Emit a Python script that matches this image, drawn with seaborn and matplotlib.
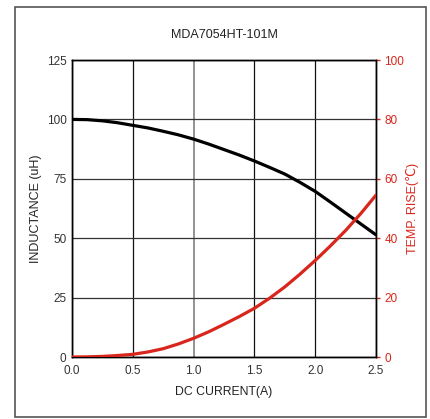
import matplotlib
matplotlib.use("Agg")
import matplotlib.pyplot as plt
import seaborn as sns
import pandas as pd
from matplotlib.patches import Rectangle

current = [0.0, 0.125, 0.25, 0.375, 0.5, 0.625, 0.75, 0.875, 1.0, 1.125, 1.25,
           1.375, 1.5, 1.625, 1.75, 1.875, 2.0, 2.125, 2.25, 2.375, 2.5]
inductance = [100.0, 99.9, 99.4, 98.6, 97.5, 96.4, 95.0, 93.5, 91.7, 89.6, 87.3,
              85.0, 82.5, 79.8, 77.0, 73.5, 69.7, 65.2, 60.6, 56.0, 51.4]
temp_rise = [0.0, 0.05, 0.2, 0.5, 0.9, 1.7, 2.8, 4.4, 6.3, 8.5, 11.0,
             13.6, 16.4, 19.8, 23.6, 27.9, 32.5, 37.4, 42.6, 48.3, 54.5]

x_ticks = [0.0, 0.5, 1.0, 1.5, 2.0, 2.5]
left_ticks = [0, 25, 50, 75, 100, 125]
right_ticks = [0, 20, 40, 60, 80, 100]

title = "MDA7054HT-101M"
xlabel = "DC CURRENT(A)"
ylabel_left = "INDUCTANCE (uH)"
ylabel_right = "TEMP. RISE(℃)"

sns.set_style("white")
plt.rcParams['font.family'] = ['Liberation Sans', 'DejaVu Sans']

df = pd.DataFrame({"current": current, "inductance": inductance, "temp": temp_rise})

fig = plt.figure(figsize=(4.30, 4.19), dpi=100)
fig.patch.set_facecolor("white")
fig.patches.append(Rectangle((15/430, 1-417/419), (426-15)/430, (417-7)/419,
                             transform=fig.transFigure, fill=False,
                             edgecolor="#555555", linewidth=1.2))

ax = fig.add_axes([72/430, 1-357/419, (376-72)/430, (357-60)/419])
ax2 = ax.twinx()

# grid
for xv in x_ticks:
    ax.axvline(xv, color="#7f7f7f" if xv == 1.0 else "#111111",
               lw=1.2 if xv == 1.0 else 0.9, zorder=0)
for yv in left_ticks:
    ax.axhline(yv, color="#333333", lw=0.9, zorder=0)

sns.lineplot(data=df, x="current", y="inductance", ax=ax, color="black", lw=2.3, zorder=3)
sns.lineplot(data=df, x="current", y="temp", ax=ax2, color="#d9261c", lw=2.3, zorder=3)

ax.set_xlim(0, 2.5)
ax.set_ylim(0, 125)
ax2.set_ylim(0, 100)
ax.set_xticks(x_ticks)
ax.set_xticklabels([f"{v:.1f}" for v in x_ticks])
ax.set_yticks(left_ticks)
ax2.set_yticks(right_ticks)

ax.tick_params(axis="both", length=0, labelsize=8.5, labelcolor="#333333", pad=4)
ax.tick_params(axis="x", pad=6)
ax2.tick_params(axis="y", length=3, width=1, color="#d9261c", labelsize=8.5,
                labelcolor="#d9261c", pad=3)

ax.set_xlabel(xlabel, fontsize=8.8, color="#222222", labelpad=6)
ax.set_ylabel(ylabel_left, fontsize=9, color="#222222", labelpad=3)
ax2.set_ylabel(ylabel_right, fontsize=9, color="#d9261c", labelpad=1)
ax.set_title(title, fontsize=9, color="#222222", pad=16)

for a in (ax, ax2):
    for s in a.spines.values():
        s.set_color("black")
        s.set_linewidth(1.0)
    a.set_facecolor("none")

fig.savefig("out.png", dpi=100, facecolor="white")
